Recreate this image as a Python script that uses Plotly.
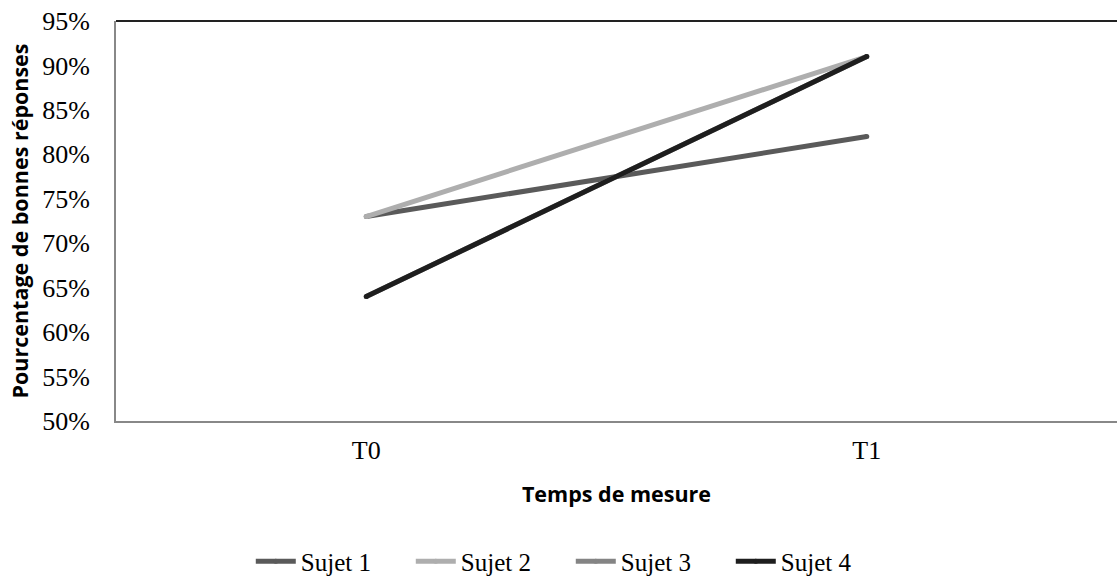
import plotly.graph_objects as go

categories = ["T0", "T1"]
sujet1 = [0.73, 0.82]
sujet2 = [0.73, 0.91]
sujet3 = [0.64, 0.91]
sujet4 = [0.64, 0.91]
series_names = ["Sujet 1", "Sujet 2", "Sujet 3", "Sujet 4"]
series_values = [sujet1, sujet2, sujet3, sujet4]
colors = ["#5a5a5a", "#aeaeae", "#848484", "#1e1e1e"]
y_ticks = [0.50, 0.55, 0.60, 0.65, 0.70, 0.75, 0.80, 0.85, 0.90, 0.95]

fig = go.Figure()
for name, vals, col in zip(series_names, series_values, colors):
    fig.add_trace(go.Scatter(
        x=categories, y=vals, name=name, mode="lines+markers",
        line=dict(color=col, width=5),
        marker=dict(color=col, size=5, line=dict(width=0)),
    ))

serif = dict(family="Liberation Serif", size=26, color="black")
sans_title = dict(family="Open Sans", size=21.5, color="black")

fig.update_layout(
    width=1117, height=577,
    margin=dict(l=116, r=0, t=21, b=156),
    paper_bgcolor="white", plot_bgcolor="white",
    font=serif,
    showlegend=True,
    legend=dict(orientation="h", xref="container", x=0.511, xanchor="center",
                yref="container", y=0.027, yanchor="middle",
                font=dict(family="Liberation Serif", size=25, color="black"),
                entrywidth=105, itemwidth=40, traceorder="normal"),
    xaxis=dict(range=[-0.5, 1.5], showgrid=False, zeroline=False,
               showline=True, linecolor="#888888", linewidth=2,
               ticks="", ticklabelstandoff=5, tickfont=serif,
               title=dict(text="<b>Temps de mesure</b>", standoff=23, font=sans_title)),
    yaxis=dict(range=[0.50, 0.95], tickvals=y_ticks, tickformat=".0%",
               showgrid=False, zeroline=False,
               showline=True, linecolor="#888888", linewidth=2,
               ticks="", ticklabelstandoff=19, tickfont=serif,
               title=dict(text="<b>Pourcentage de bonnes réponses</b>", standoff=8,
                          font=sans_title)),
)
fig.add_shape(type="line", xref="paper", yref="paper", x0=0, x1=1, y0=1, y1=1,
              line=dict(color="#222222", width=2))

fig.write_html("out.html")
